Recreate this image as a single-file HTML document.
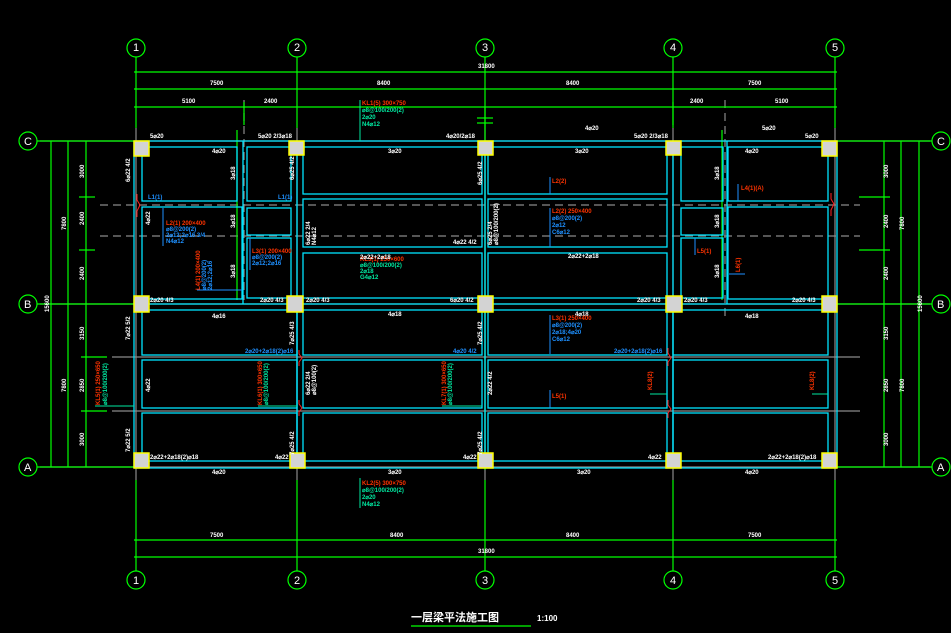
<!DOCTYPE html>
<html><head><meta charset="utf-8"><style>
html,body{margin:0;padding:0;background:#000;width:951px;height:633px;overflow:hidden}
svg{display:block}
text{font-family:"Liberation Sans","Noto Sans CJK SC",sans-serif;font-size:6px;fill:#fff;font-weight:bold}
.c{fill:none;stroke:#00e5ff;stroke-width:1.3}
.g{stroke:#00ff00;stroke-width:1.2;fill:none}
.gr{stroke:#8a8a8a;stroke-width:1.2}
.dash{stroke:#8a8a8a;stroke-width:1.2;stroke-dasharray:8 5}
.col{fill:#d3d3d3;stroke:#ffff00;stroke-width:1.5}
.r{fill:#ff3300}.b{fill:#1e90ff}.t{fill:#00e8a0}
</style></head><body>
<svg width="951" height="633" viewBox="0 0 951 633" xmlns="http://www.w3.org/2000/svg">
<g class="gr">
<line x1="40" y1="141" x2="930" y2="141"/><line x1="40" y1="304" x2="930" y2="304"/><line x1="40" y1="467" x2="930" y2="467"/>
<line x1="136" y1="128" x2="136" y2="480"/><line x1="297" y1="128" x2="297" y2="480"/><line x1="485" y1="128" x2="485" y2="480"/><line x1="673" y1="128" x2="673" y2="480"/><line x1="835" y1="128" x2="835" y2="480"/>
<line x1="112" y1="357" x2="860" y2="357"/><line x1="112" y1="411" x2="860" y2="411"/>
</g>
<line class="dash" x1="100" y1="205" x2="860" y2="205"/>
<line class="dash" x1="100" y1="236" x2="860" y2="236"/>
<line class="dash" x1="244" y1="100" x2="244" y2="300"/>
<line class="dash" x1="725" y1="100" x2="725" y2="320"/>
<g class="g">
<circle cx="136" cy="48" r="9"/><circle cx="297" cy="48" r="9"/><circle cx="485" cy="48" r="9"/><circle cx="673" cy="48" r="9"/><circle cx="835" cy="48" r="9"/>
<circle cx="136" cy="580" r="9"/><circle cx="297" cy="580" r="9"/><circle cx="485" cy="580" r="9"/><circle cx="673" cy="580" r="9"/><circle cx="835" cy="580" r="9"/>
<circle cx="28" cy="141" r="9"/><circle cx="28" cy="304" r="9"/><circle cx="28" cy="467" r="9"/>
<circle cx="941" cy="141" r="9"/><circle cx="941" cy="304" r="9"/><circle cx="941" cy="467" r="9"/>
<line x1="136" y1="57" x2="136" y2="128"/><line x1="297" y1="57" x2="297" y2="128"/><line x1="485" y1="57" x2="485" y2="128"/><line x1="673" y1="57" x2="673" y2="128"/><line x1="835" y1="57" x2="835" y2="128"/>
<line x1="136" y1="480" x2="136" y2="571"/><line x1="297" y1="480" x2="297" y2="571"/><line x1="485" y1="480" x2="485" y2="571"/><line x1="673" y1="480" x2="673" y2="571"/><line x1="835" y1="480" x2="835" y2="571"/>
<line x1="134" y1="72" x2="837" y2="72"/><line x1="134" y1="89" x2="837" y2="89"/><line x1="134" y1="107" x2="837" y2="107"/>
<line x1="134" y1="540" x2="837" y2="540"/><line x1="134" y1="557" x2="837" y2="557"/>
<line x1="244" y1="102" x2="244" y2="125"/><line x1="673" y1="102" x2="673" y2="125"/>
<line x1="37" y1="141" x2="134" y2="141"/><line x1="37" y1="304" x2="134" y2="304"/><line x1="37" y1="467" x2="134" y2="467"/>
<line x1="837" y1="141" x2="932" y2="141"/><line x1="837" y1="304" x2="932" y2="304"/><line x1="837" y1="467" x2="932" y2="467"/>
<line x1="51" y1="141" x2="51" y2="467"/><line x1="68" y1="141" x2="68" y2="467"/><line x1="86" y1="141" x2="86" y2="467"/>
<line x1="884" y1="141" x2="884" y2="467"/><line x1="901" y1="141" x2="901" y2="467"/><line x1="919" y1="141" x2="919" y2="467"/>
<line x1="81" y1="357" x2="107" y2="357"/><line x1="81" y1="411" x2="107" y2="411"/>
<line x1="79" y1="197" x2="95" y2="197"/><line x1="79" y1="250" x2="95" y2="250"/>
<line x1="859" y1="197" x2="890" y2="197"/><line x1="859" y1="250" x2="890" y2="250"/>
<line x1="237" y1="130" x2="237" y2="300"/><line x1="722" y1="130" x2="722" y2="300"/>
<line x1="477" y1="118" x2="493" y2="118"/><line x1="477" y1="123" x2="493" y2="123"/>
<line x1="485" y1="107" x2="485" y2="470"/>
<line x1="411" y1="626" x2="531" y2="626"/>
</g>
<g fill="#fff" font-size="6">
<text x="210" y="85">7500</text><text x="377" y="85">8400</text><text x="566" y="85">8400</text><text x="748" y="85">7500</text><text x="478" y="68">31800</text>
<text x="182" y="103">5100</text><text x="264" y="103">2400</text><text x="690" y="103">2400</text><text x="775" y="103">5100</text>
<text x="210" y="537">7500</text><text x="390" y="537">8400</text><text x="566" y="537">8400</text><text x="748" y="537">7500</text><text x="478" y="553">31800</text>
</g>
<text x="133" y="51" style="font-size:11px;font-weight:normal">1</text><text x="294" y="51" style="font-size:11px;font-weight:normal">2</text><text x="482" y="51" style="font-size:11px;font-weight:normal">3</text><text x="670" y="51" style="font-size:11px;font-weight:normal">4</text><text x="832" y="51" style="font-size:11px;font-weight:normal">5</text>
<text x="133" y="584" style="font-size:11px;font-weight:normal">1</text><text x="294" y="584" style="font-size:11px;font-weight:normal">2</text><text x="482" y="584" style="font-size:11px;font-weight:normal">3</text><text x="670" y="584" style="font-size:11px;font-weight:normal">4</text><text x="832" y="584" style="font-size:11px;font-weight:normal">5</text>
<text x="24" y="145" style="font-size:11px;font-weight:normal">C</text><text x="24" y="308" style="font-size:11px;font-weight:normal">B</text><text x="24" y="471" style="font-size:11px;font-weight:normal">A</text>
<text x="937" y="145" style="font-size:11px;font-weight:normal">C</text><text x="937" y="308" style="font-size:11px;font-weight:normal">B</text><text x="937" y="471" style="font-size:11px;font-weight:normal">A</text>
<g class="c">
<line x1="134" y1="141" x2="837" y2="141"/><line x1="134" y1="468" x2="837" y2="468"/>
<line x1="134" y1="141" x2="134" y2="468"/><line x1="837" y1="141" x2="837" y2="468"/>
<line x1="134" y1="304" x2="837" y2="304"/>
<line x1="297" y1="141" x2="297" y2="468"/><line x1="485" y1="141" x2="485" y2="468"/><line x1="673" y1="141" x2="673" y2="468"/>
<line x1="243" y1="141" x2="243" y2="304"/><line x1="727" y1="141" x2="727" y2="304"/>
<rect x="142" y="147" width="95" height="54"/><rect x="142" y="207" width="100" height="92"/>
<rect x="247" y="147" width="44" height="54"/><rect x="247" y="208" width="44" height="27"/><rect x="247" y="238" width="44" height="60"/>
<rect x="303" y="147" width="179" height="47"/><rect x="303" y="199" width="179" height="48"/><rect x="303" y="253" width="179" height="45"/>
<rect x="488" y="147" width="179" height="47"/><rect x="488" y="199" width="179" height="48"/><rect x="488" y="253" width="179" height="45"/>
<rect x="681" y="147" width="42" height="54"/><rect x="681" y="208" width="42" height="27"/><rect x="681" y="238" width="42" height="60"/>
<rect x="728" y="147" width="100" height="54"/><rect x="728" y="207" width="100" height="92"/>
<rect x="142" y="310" width="155" height="45"/><rect x="142" y="360" width="155" height="48"/><rect x="142" y="413" width="155" height="48"/>
<rect x="303" y="310" width="179" height="45"/><rect x="303" y="360" width="179" height="48"/><rect x="303" y="413" width="179" height="48"/>
<rect x="488" y="310" width="179" height="45"/><rect x="488" y="360" width="179" height="48"/><rect x="488" y="413" width="179" height="48"/>
<rect x="673" y="310" width="155" height="45"/><rect x="673" y="360" width="155" height="48"/><rect x="673" y="413" width="155" height="48"/>
</g>
<g class="col">
<rect x="134" y="141" width="15" height="15"/><rect x="289" y="141" width="15" height="14"/><rect x="478" y="141" width="15" height="14"/><rect x="666" y="141" width="15" height="14"/><rect x="822" y="141" width="15" height="15"/>
<rect x="134" y="296" width="15" height="16"/><rect x="287" y="296" width="16" height="16"/><rect x="478" y="296" width="15" height="16"/><rect x="666" y="296" width="16" height="16"/><rect x="822" y="296" width="15" height="16"/>
<rect x="134" y="453" width="15" height="15"/><rect x="290" y="453" width="15" height="15"/><rect x="478" y="453" width="15" height="15"/><rect x="666" y="453" width="15" height="15"/><rect x="822" y="453" width="15" height="15"/>
</g>
<g stroke="#ff2020" fill="none" stroke-width="1"><path d="M137 194 l0 6 l3 5 l-3 6 l0 6"/><path d="M299 350 l0 4 l3 4 l-3 4 l0 4"/><path d="M299 400 l0 4 l3 4 l-3 4 l0 4"/><path d="M668 348 l0 5 l3 5 l-3 4 l0 4"/><path d="M668 400 l0 5 l3 4 l-3 4 l0 5"/><path d="M831 193 l0 6 l3 5 l-3 6 l0 6"/></g>
<g stroke-width="1"><line x1="360" y1="100" x2="360" y2="141" stroke="#00e8a0"/><line x1="360" y1="478" x2="360" y2="508" stroke="#00e8a0"/>
<line x1="550" y1="177" x2="550" y2="194" stroke="#1e90ff"/><line x1="550" y1="208" x2="550" y2="247" stroke="#1e90ff"/><line x1="550" y1="315" x2="550" y2="354" stroke="#1e90ff"/><line x1="550" y1="390" x2="550" y2="408" stroke="#1e90ff"/>
<line x1="163" y1="208" x2="163" y2="246" stroke="#1e90ff"/><line x1="250" y1="238" x2="250" y2="270" stroke="#1e90ff"/><line x1="197" y1="290" x2="242" y2="290" stroke="#1e90ff"/>
<line x1="738" y1="184" x2="738" y2="201" stroke="#1e90ff"/><line x1="695" y1="238" x2="695" y2="255" stroke="#1e90ff"/><line x1="729" y1="274" x2="745" y2="274" stroke="#1e90ff"/>
<line x1="95" y1="406" x2="134" y2="406" stroke="#00e8a0"/><line x1="258" y1="406" x2="297" y2="406" stroke="#00e8a0"/><line x1="442" y1="406" x2="482" y2="406" stroke="#00e8a0"/><line x1="650" y1="394" x2="667" y2="394" stroke="#00e8a0"/><line x1="812" y1="394" x2="828" y2="394" stroke="#00e8a0"/></g>
<text x="362" y="105" class="r">KL1(5) 300×750</text><text x="362" y="112" class="t">⌀8@100/200(2)</text><text x="362" y="119" class="t">2⌀20</text><text x="362" y="126" class="t">N4⌀12</text>
<text x="362" y="485" class="r">KL2(5) 300×750</text><text x="362" y="492" class="t">⌀8@100/200(2)</text><text x="362" y="499" class="t">2⌀20</text><text x="362" y="506" class="t">N4⌀12</text>
<text x="150" y="138">5⌀20</text><text x="258" y="138">5⌀20 2/3⌀18</text><text x="446" y="138">4⌀20/2⌀18</text><text x="634" y="138">5⌀20 2/3⌀18</text><text x="805" y="138">5⌀20</text>
<text x="212" y="153">4⌀20</text><text x="388" y="153">3⌀20</text><text x="575" y="153">3⌀20</text><text x="745" y="153">4⌀20</text>
<text x="148" y="199" class="b">L1(1)</text><text x="278" y="199" class="b">L1(1)</text>
<text x="150" y="302">2⌀20 4/3</text><text x="260" y="302">2⌀20 4/3</text><text x="306" y="302">2⌀20 4/3</text><text x="450" y="302">6⌀20 4/2</text><text x="637" y="302">2⌀20 4/3</text><text x="684" y="302">2⌀20 4/3</text><text x="792" y="302">2⌀20 4/3</text>
<text x="212" y="318">4⌀16</text><text x="388" y="316">4⌀18</text><text x="575" y="316">4⌀18</text><text x="745" y="318">4⌀18</text>
<text x="245" y="353" class="b">2⌀20+2⌀18(2)⌀16</text><text x="453" y="353" class="b">4⌀20 4/2</text><text x="614" y="353" class="b">2⌀20+2⌀18(2)⌀16</text>
<text x="150" y="459">2⌀22+2⌀18(2)⌀18</text><text x="275" y="459">4⌀22</text><text x="463" y="459">4⌀22</text><text x="648" y="459">4⌀22</text><text x="768" y="459">2⌀22+2⌀18(2)⌀18</text>
<text x="212" y="474">4⌀20</text><text x="388" y="474">3⌀20</text><text x="577" y="474">3⌀20</text><text x="745" y="474">4⌀20</text>
<text x="166" y="225" class="r">L2(1) 200×400</text><text x="166" y="231" class="b">⌀8@200(2)</text><text x="166" y="237" class="b">2⌀12;2⌀16 3/4</text><text x="166" y="243" class="b">N4⌀12</text>
<text x="252" y="253" class="r">L3(1) 200×400</text><text x="252" y="259" class="b">⌀8@200(2)</text><text x="252" y="265" class="b">2⌀12;2⌀16</text>
<text x="360" y="261" class="r">KL3(1) 250×600</text><text x="360" y="267" class="t">⌀8@100/200(2)</text><text x="360" y="273" class="t">2⌀18</text><text x="360" y="279" class="t">G4⌀12</text>
<text x="568" y="258">2⌀22+2⌀18</text><text x="360" y="259">2⌀22+2⌀18</text><text x="453" y="244">4⌀22 4/2</text>
<text x="552" y="183" class="r">L2(2)</text>
<text x="552" y="213" class="r">L2(2) 250×400</text><text x="552" y="220" class="b">⌀8@200(2)</text><text x="552" y="227" class="b">2⌀12</text><text x="552" y="234" class="b">C6⌀12</text>
<text x="552" y="320" class="r">L3(1) 250×400</text><text x="552" y="327" class="b">⌀8@200(2)</text><text x="552" y="334" class="b">2⌀18;4⌀20</text><text x="552" y="341" class="b">C6⌀12</text>
<text x="552" y="398" class="r">L5(1)</text>
<text x="741" y="190" class="r">L4(1)(A)</text><text x="697" y="253" class="r">L5(1)</text>
<text x="762" y="130">5⌀20</text><text x="585" y="130">4⌀20</text>
<text x="740" y="272" class="r" transform="rotate(-90 740 272)">L6(1)</text>
<text x="652" y="390" class="r" transform="rotate(-90 652 390)">KL8(2)</text><text x="814" y="390" class="r" transform="rotate(-90 814 390)">KL8(2)</text>
<text x="100" y="405" class="r" transform="rotate(-90 100 405)">KL5(1) 250×650</text><text x="107" y="405" class="t" transform="rotate(-90 107 405)">⌀8@100/200(2)</text>
<text x="262" y="405" class="r" transform="rotate(-90 262 405)">KL6(1) 300×650</text><text x="268" y="405" class="t" transform="rotate(-90 268 405)">⌀8@100/200(2)</text>
<text x="446" y="405" class="r" transform="rotate(-90 446 405)">KL7(1) 300×650</text><text x="452" y="405" class="t" transform="rotate(-90 452 405)">⌀8@100/200(2)</text>
<text x="200" y="290" class="r" transform="rotate(-90 200 290)">L4(1) 200×400</text><text x="206" y="290" class="b" transform="rotate(-90 206 290)">⌀8@200(2)</text><text x="212" y="290" class="b" transform="rotate(-90 212 290)">2⌀12;2⌀16</text>
<text x="130" y="182" transform="rotate(-90 130 182)">6⌀22 4/2</text><text x="130" y="340" transform="rotate(-90 130 340)">7⌀22 5/2</text><text x="130" y="452" transform="rotate(-90 130 452)">7⌀22 5/2</text>
<text x="294" y="180" transform="rotate(-90 294 180)">6⌀25 4/2</text><text x="294" y="345" transform="rotate(-90 294 345)">7⌀25 4/3</text><text x="294" y="455" transform="rotate(-90 294 455)">7⌀25 4/2</text>
<text x="482" y="185" transform="rotate(-90 482 185)">6⌀25 4/2</text><text x="482" y="345" transform="rotate(-90 482 345)">7⌀25 4/2</text><text x="482" y="455" transform="rotate(-90 482 455)">7⌀25 4/2</text>
<text x="310" y="245" transform="rotate(-90 310 245)">6⌀22 2/4</text><text x="316" y="245" transform="rotate(-90 316 245)">N4⌀12</text>
<text x="310" y="395" transform="rotate(-90 310 395)">6⌀22 2/4</text><text x="316" y="395" transform="rotate(-90 316 395)">⌀8@100(2)</text>
<text x="492" y="245" transform="rotate(-90 492 245)">6⌀25 2/4</text><text x="498" y="245" transform="rotate(-90 498 245)">⌀8@100/200(2)</text>
<text x="492" y="395" transform="rotate(-90 492 395)">2⌀22 4/2</text>
<text x="150" y="392" transform="rotate(-90 150 392)">4⌀22</text><text x="150" y="225" transform="rotate(-90 150 225)">4⌀22</text>
<text x="235" y="180" transform="rotate(-90 235 180)">3⌀18</text><text x="235" y="228" transform="rotate(-90 235 228)">3⌀18</text><text x="235" y="278" transform="rotate(-90 235 278)">3⌀18</text>
<text x="719" y="180" transform="rotate(-90 719 180)">3⌀18</text><text x="719" y="228" transform="rotate(-90 719 228)">3⌀18</text><text x="719" y="278" transform="rotate(-90 719 278)">3⌀18</text>
<text x="84" y="178" transform="rotate(-90 84 178)">3000</text><text x="84" y="225" transform="rotate(-90 84 225)">2400</text><text x="84" y="280" transform="rotate(-90 84 280)">2400</text>
<text x="84" y="340" transform="rotate(-90 84 340)">3150</text><text x="84" y="392" transform="rotate(-90 84 392)">2850</text><text x="84" y="446" transform="rotate(-90 84 446)">3000</text>
<text x="66" y="230" transform="rotate(-90 66 230)">7800</text><text x="66" y="392" transform="rotate(-90 66 392)">7800</text><text x="49" y="312" transform="rotate(-90 49 312)">15600</text>
<text x="888" y="178" transform="rotate(-90 888 178)">3000</text><text x="888" y="228" transform="rotate(-90 888 228)">2400</text><text x="888" y="280" transform="rotate(-90 888 280)">2400</text>
<text x="888" y="340" transform="rotate(-90 888 340)">3150</text><text x="888" y="392" transform="rotate(-90 888 392)">2850</text><text x="888" y="446" transform="rotate(-90 888 446)">3000</text>
<text x="904" y="230" transform="rotate(-90 904 230)">7800</text><text x="904" y="392" transform="rotate(-90 904 392)">7800</text><text x="922" y="312" transform="rotate(-90 922 312)">15600</text>
<text x="411" y="621" style="font-size:11px">一层梁平法施工图</text>
<text x="537" y="621" style="font-size:8px">1:100</text>
</svg>
</body></html>
